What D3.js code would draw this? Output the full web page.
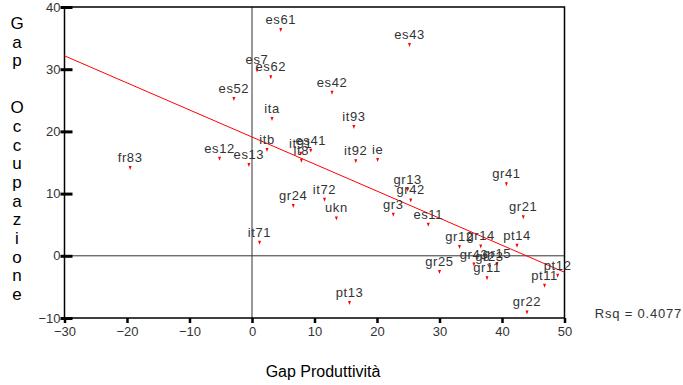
<!DOCTYPE html>
<html>
<head>
<meta charset="utf-8">
<script src="https://cdn.jsdelivr.net/npm/d3@7"></script>
<style>
  html, body { margin: 0; padding: 0; background: #fff; }
  svg { display: block; }
  text { font-family: "Liberation Sans", Arial, sans-serif; }
</style>
</head>
<body>
<svg id="chart" width="683" height="385"></svg>
<script>
// ---- data ----
const regions = ["fr83","es52","es12","es13","es61","es43","es7","es62","es42","ita","it93","itb","es41","it91","it8","it92","ie",
  "gr13","gr42","gr3","es11","gr24","it72","ukn","it71","gr12","gr25","pt13","gr41","gr21","pt14","gr14","gr43","gr23","gr15","gr11","pt12","pt11","gr22"];
const gapProduttivita = [-19.5,-2.9,-5.2,-0.5,4.6,25.2,0.8,3.0,12.8,3.2,16.3,2.4,9.4,7.8,7.9,16.6,20.1,
  24.9,25.4,22.6,28.2,6.6,11.6,13.5,1.2,33.2,30.0,15.6,40.7,43.4,42.4,36.6,35.5,38.0,39.2,37.6,48.9,46.8,44.0];
const gapOccupazione = [14.1,25.2,15.6,14.6,36.3,33.9,29.8,28.7,26.2,22.0,20.7,17.0,16.9,16.4,15.3,15.2,15.4,
  10.6,8.9,6.6,5.0,8.0,9.0,6.0,2.1,1.4,-2.6,-7.6,11.5,6.2,1.6,1.5,-1.4,-1.8,-1.3,-3.6,-3.2,-4.8,-9.1];
const xTicks = [-30,-20,-10,0,10,20,30,40,50];
const yTicks = [-10,0,10,20,30,40];
const fitIntercept = 19.1;
const fitSlope = -0.435;
const rsqLabel = "Rsq = 0.4077";
const xTitle = "Gap Produttività";
const yTitle = "Gap Occupazione";

// ---- layout ----
const svg = d3.select("#chart");
const L = 64.5, T = 7, W = 500, H = 311;
const x = d3.scaleLinear().domain([-30, 50]).range([L, L + W]);
const y = d3.scaleLinear().domain([-10, 40]).range([T + H, T]);
const txtCol = "#333";

// reference lines at 0
svg.append("line").attr("x1", x(0)).attr("x2", x(0)).attr("y1", T).attr("y2", T + H)
  .attr("stroke", "#333").attr("stroke-width", 1);
svg.append("line").attr("x1", L).attr("x2", L + W).attr("y1", y(0)).attr("y2", y(0))
  .attr("stroke", "#333").attr("stroke-width", 1);

// frame
svg.append("rect").attr("x", L).attr("y", T).attr("width", W).attr("height", H)
  .attr("fill", "none").attr("stroke", "#000").attr("stroke-width", 1.5);

// axes
const yAxis = d3.axisLeft(y).tickValues(yTicks).tickSize(0).tickPadding(4);
const gy = svg.append("g").attr("transform", `translate(${L},0)`).call(yAxis);
gy.select(".domain").remove();
gy.selectAll(".tick text").attr("font-size", 13).attr("fill", txtCol)
  .attr("font-family", "Liberation Sans, Arial, sans-serif");
gy.selectAll(".tick").append("line").attr("x1", -4).attr("x2", 8)
  .attr("stroke", "#000").attr("stroke-width", 3);

const xAxis = d3.axisBottom(x).tickValues(xTicks).tickSize(0).tickPadding(9);
const gx = svg.append("g").attr("transform", `translate(0,${T + H})`).call(xAxis);
gx.select(".domain").remove();
gx.selectAll(".tick text").attr("font-size", 13).attr("fill", txtCol)
  .attr("font-family", "Liberation Sans, Arial, sans-serif");
gx.selectAll(".tick").append("line").attr("y1", 0).attr("y2", 5)
  .attr("stroke", "#000").attr("stroke-width", 2.5);

// regression line
const fx = [-30, 50];
svg.append("line")
  .attr("x1", x(fx[0])).attr("y1", y(fitIntercept + fitSlope * fx[0]))
  .attr("x2", x(fx[1])).attr("y2", y(fitIntercept + fitSlope * fx[1]))
  .attr("stroke", "#ff0000").attr("stroke-width", 1);

// points
const pts = regions.map((r, i) => ({ r, px: gapProduttivita[i], py: gapOccupazione[i] }));
svg.append("g").selectAll("path").data(pts).join("path")
  .attr("d", d => `M${x(d.px) - 1.5},${y(d.py) - 2}h3l-1.5,4z`)
  .attr("fill", "#ff0000");
svg.append("g").selectAll("text").data(pts).join("text")
  .attr("x", d => x(d.px)).attr("y", d => y(d.py) - 6)
  .attr("text-anchor", "middle").attr("font-size", 13).attr("letter-spacing", 0.6)
  .attr("fill", txtCol).text(d => d.r);

// Rsq
svg.append("text").attr("x", 682).attr("y", 318).attr("text-anchor", "end")
  .attr("font-size", 13).attr("letter-spacing", 0.8).attr("fill", txtCol).text(rsqLabel);

// x title
svg.append("text").attr("x", 323).attr("y", 377).attr("text-anchor", "middle")
  .attr("font-size", 16).attr("fill", "#000").text(xTitle);

// y title, stacked letters
let yy = 29;
const yt = svg.append("g");
for (const ch of yTitle) {
  if (ch === " ") { yy += 18.7 * 2.5 - 18.7; continue; }
  yt.append("text").attr("x", 17).attr("y", yy).attr("text-anchor", "middle")
    .attr("font-size", 17).attr("fill", "#000").text(ch);
  yy += 18.7;
}
</script>
</body>
</html>
